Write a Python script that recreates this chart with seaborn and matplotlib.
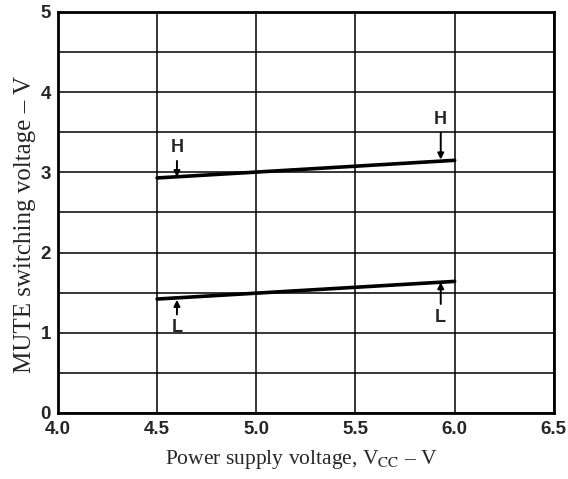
import numpy as np
import pandas as pd
import seaborn as sns
from matplotlib import pyplot as plt
from matplotlib.ticker import MultipleLocator

# data
supply_v = [4.5, 6.0]
mute_high = [2.93, 3.15]
mute_low = [1.42, 1.64]
x_ticks = [4.0, 4.5, 5.0, 5.5, 6.0, 6.5]
y_ticks = [0, 1, 2, 3, 4, 5]

df = pd.DataFrame({
    'vcc': supply_v * 2,
    'mute': mute_high + mute_low,
    'level': ['H'] * 2 + ['L'] * 2,
})

sns.set_style('white')
plt.rcParams['mathtext.fontset'] = 'stix'

fig = plt.figure(figsize=(5.68, 4.79), dpi=100)
ax = fig.add_axes([0.102, 0.138, 0.873, 0.837])

sns.lineplot(data=df, x='vcc', y='mute', units='level', estimator=None,
             color='black', linewidth=2.6, ax=ax, legend=False)

ax.set_xlim(4.0, 6.5)
ax.set_ylim(0, 5)
ax.set_xticks(x_ticks)
ax.set_yticks(y_ticks)
ax.xaxis.set_minor_locator(MultipleLocator(0.5))
ax.yaxis.set_minor_locator(MultipleLocator(0.5))
ax.grid(True, which='both', color='black', linewidth=1.1)
ax.set_axisbelow(True)
ax.tick_params(axis='x', length=0, which='both', pad=6)
ax.tick_params(axis='y', length=0, which='both', pad=5)
for s in ax.spines.values():
    s.set_color('black')
    s.set_linewidth(2)

tick_font = dict(fontweight='bold', fontsize=13.5, family='Liberation Sans')
ax.set_xticklabels([f'{v:.1f}' for v in x_ticks], **tick_font)
ax.set_yticklabels([str(v) for v in y_ticks], **tick_font)

ax.set_xlabel(r'Power supply voltage, V$_{\mathrm{CC}}$ – V', family='Liberation Serif',
              fontsize=15.5, va='center')
ax.set_ylabel('MUTE switching voltage – V', family='Liberation Serif', fontsize=18,
              va='center')
ax.xaxis.set_label_coords(0.49, -0.117)
ax.yaxis.set_label_coords(-0.066, 0.47)

# H / L markers with arrows
arrow = dict(arrowstyle='-|>', color='black', lw=1.4, mutation_scale=9,
             shrinkA=1, shrinkB=0)
lab = dict(fontsize=13, fontweight='bold', ha='center', family='Liberation Sans')
ax.annotate('H', xy=(4.6, mute_high[0] + 0.01), xytext=(4.6, 3.2), va='bottom',
            arrowprops=arrow, **lab)
ax.annotate('H', xy=(5.93, mute_high[1] + 0.01), xytext=(5.93, 3.55), va='bottom',
            arrowprops=arrow, **lab)
ax.annotate('L', xy=(4.6, mute_low[0] - 0.01), xytext=(4.6, 1.17), va='top',
            arrowprops=arrow, **lab)
ax.annotate('L', xy=(5.93, mute_low[1] - 0.01), xytext=(5.93, 1.3), va='top',
            arrowprops=arrow, **lab)

fig.savefig('out.png', dpi=100)
